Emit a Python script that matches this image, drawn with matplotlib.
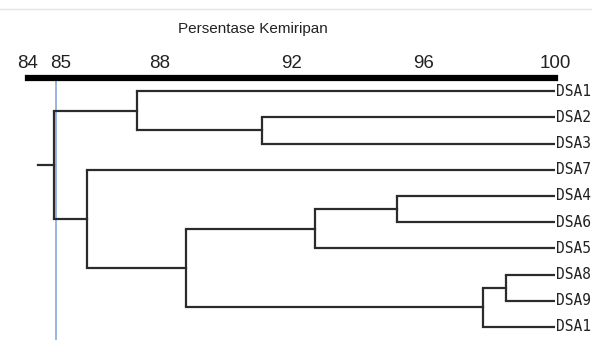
import matplotlib
matplotlib.use("Agg")
import matplotlib.pyplot as plt
from matplotlib.lines import Line2D

# Leaves from top to bottom
leaves = ["DSA1", "DSA2", "DSA3", "DSA7", "DSA4", "DSA6", "DSA5", "DSA8", "DSA9", "DSA10"]

# Merges (left cluster, right cluster, similarity %)
merge_left = ["DSA8", "DSA8+DSA9", "DSA4", "DSA4+DSA6", "DSA2", "DSA1", "C465", "DSA7", "C123"]
merge_right = ["DSA9", "DSA10", "DSA6", "DSA5", "DSA3", "DSA2+DSA3", "C8910", "C465+C8910", "C7rest"]
merge_name = ["DSA8+DSA9", "C8910", "DSA4+DSA6", "C465", "DSA2+DSA3", "C123", "C465+C8910", "C7rest", "root"]
merge_height = [98.5, 97.8, 95.2, 92.7, 91.1, 87.3, 88.8, 85.8, 84.8]
root_stub = 84.3
cutoff = 84.85

ticks = [84, 85, 88, 92, 96, 100]

fig = plt.figure(figsize=(5.92, 3.40), dpi=100)
ax = fig.add_axes([28 / 592, 0, 527 / 592, 1 - 78 / 340])

line_col = "#2b2b2b"
lw = 1.6

# positions of every node
ypos = {name: i for i, name in enumerate(leaves)}
xpos = {name: 100 for name in leaves}
for l, r, n, h in zip(merge_left, merge_right, merge_name, merge_height):
    ax.plot([h, h], [ypos[l], ypos[r]], color=line_col, lw=lw, solid_capstyle="butt")
    ax.plot([h, xpos[l]], [ypos[l], ypos[l]], color=line_col, lw=lw)
    ax.plot([h, xpos[r]], [ypos[r], ypos[r]], color=line_col, lw=lw)
    ypos[n] = (ypos[l] + ypos[r]) / 2
    xpos[n] = h

ax.plot([root_stub, xpos["root"]], [ypos["root"], ypos["root"]], color=line_col, lw=lw)

# cut-off line
ax.axvline(cutoff, color="#8eb1dc", lw=1.3, zorder=0)

for name in leaves:
    ax.annotate(name, (100, ypos[name]), xytext=(1, 0), textcoords="offset points",
                va="center", ha="left", fontsize=10.5, family="DejaVu Sans Mono",
                color="#222222", annotation_clip=False)

ax.set_xlim(84, 100)
ax.set_ylim(9.5, -0.5)
ax.xaxis.tick_top()
ax.set_xticks(ticks)
ax.set_xticklabels([str(t) for t in ticks], fontsize=13.5, family="Liberation Sans")
ax.tick_params(axis="x", length=0, pad=4, colors="#222222")
ax.set_yticks([])
for s in ["left", "right", "bottom"]:
    ax.spines[s].set_visible(False)
ax.spines["top"].set_linewidth(4.5)
ax.spines["top"].set_color("black")

ax.xaxis.set_label_position("top")
ax.set_xlabel("Persentase Kemiripan", fontsize=11, family="Liberation Sans", color="#222222")
ax.xaxis.set_label_coords(0.427, 1.17)

# faint border line at the very top of the picture
fig.add_artist(Line2D([0, 1], [1 - 9 / 340, 1 - 9 / 340], color="#e4e4e4", lw=1))

fig.savefig("out.png", dpi=100)
